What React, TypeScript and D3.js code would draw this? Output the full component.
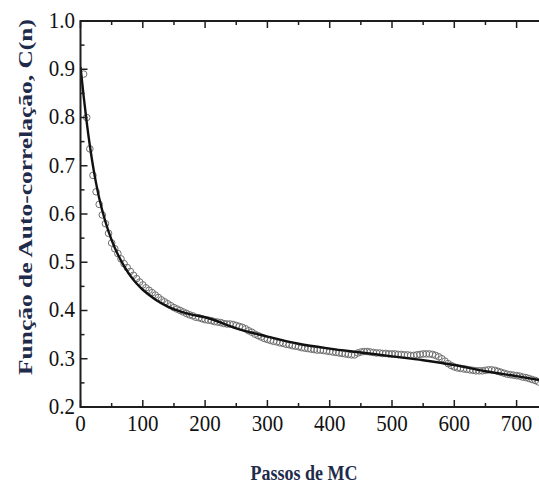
import React from "react";
import * as d3 from "d3";

// Monte Carlo steps (circles every 5 steps) and measured autocorrelation
const dataSteps: number[] = [
  5, 10, 15, 20, 25, 30, 35, 40, 45, 50, 55, 60, 65, 70, 75, 80, 85, 90, 95, 100,
  105, 110, 115, 120, 125, 130, 135, 140, 145, 150, 155, 160, 165, 170, 175, 180, 185, 190, 195, 200,
  205, 210, 215, 220, 225, 230, 235, 240, 245, 250, 255, 260, 265, 270, 275, 280, 285, 290, 295, 300,
  305, 310, 315, 320, 325, 330, 335, 340, 345, 350, 355, 360, 365, 370, 375, 380, 385, 390, 395, 400,
  405, 410, 415, 420, 425, 430, 435, 440, 445, 450, 455, 460, 465, 470, 475, 480, 485, 490, 495, 500,
  505, 510, 515, 520, 525, 530, 535, 540, 545, 550, 555, 560, 565, 570, 575, 580, 585, 590, 595, 600,
  605, 610, 615, 620, 625, 630, 635, 640, 645, 650, 655, 660, 665, 670, 675, 680, 685, 690, 695, 700,
  705, 710, 715, 720, 725, 730, 735,
];
const dataValues: number[] = [
  0.890, 0.800, 0.735, 0.680, 0.646, 0.620, 0.598, 0.580, 0.560, 0.540, 0.528, 0.518, 0.507, 0.497, 0.489, 0.481, 0.473, 0.466, 0.459, 0.453,
  0.447, 0.442, 0.437, 0.432, 0.427, 0.422, 0.418, 0.414, 0.410, 0.406, 0.403, 0.400, 0.397, 0.394, 0.391, 0.389, 0.386, 0.385, 0.383, 0.381,
  0.380, 0.379, 0.377, 0.376, 0.375, 0.373, 0.372, 0.372, 0.371, 0.369, 0.367, 0.365, 0.362, 0.358, 0.355, 0.351, 0.348, 0.345, 0.342, 0.340,
  0.338, 0.336, 0.335, 0.333, 0.332, 0.330, 0.329, 0.327, 0.326, 0.325, 0.323, 0.322, 0.321, 0.320, 0.319, 0.318, 0.318, 0.317, 0.316, 0.315,
  0.314, 0.313, 0.312, 0.311, 0.310, 0.309, 0.308, 0.308, 0.312, 0.314, 0.315, 0.315, 0.314, 0.313, 0.312, 0.312, 0.311, 0.311, 0.310, 0.310,
  0.310, 0.309, 0.309, 0.308, 0.308, 0.307, 0.307, 0.308, 0.309, 0.310, 0.310, 0.310, 0.309, 0.307, 0.304, 0.300, 0.295, 0.290, 0.286, 0.283,
  0.281, 0.280, 0.279, 0.278, 0.277, 0.276, 0.275, 0.275, 0.275, 0.276, 0.277, 0.277, 0.276, 0.274, 0.272, 0.270, 0.268, 0.267, 0.266, 0.265,
  0.264, 0.262, 0.261, 0.259, 0.257, 0.255, 0.252,
];

// Fitted curve, read at these steps
const fitSteps: number[] = [0, 5, 10, 15, 20, 25, 30, 40, 50, 60, 70, 80, 90, 100, 120, 140, 160, 180, 200, 250, 300, 350, 400, 450, 500, 550, 600, 650, 700, 750];
const fitValues: number[] = [0.905, 0.845, 0.790, 0.742, 0.700, 0.664, 0.633, 0.584, 0.546, 0.516, 0.492, 0.472, 0.456, 0.443, 0.423, 0.408, 0.398, 0.391, 0.386, 0.363, 0.346, 0.331, 0.321, 0.313, 0.305, 0.297, 0.287, 0.274, 0.264, 0.253];

const xTicks: number[] = [0, 100, 200, 300, 400, 500, 600, 700];
const xMinorTicks: number[] = [50, 150, 250, 350, 450, 550, 650, 750];
const yTicks: number[] = [0.2, 0.3, 0.4, 0.5, 0.6, 0.7, 0.8, 0.9, 1.0];
const yMinorTicks: number[] = [0.25, 0.35, 0.45, 0.55, 0.65, 0.75, 0.85, 0.95];

const W = 539;
const H = 485;
const left = 80.5;
const top = 21;
const bottom = 407;
const pxPer100 = 62.3;

const FONT = '"Times New Roman", "Liberation Serif", Times, serif';

export default function App() {
  const x = d3.scaleLinear().domain([0, 750]).range([left, left + 7.5 * pxPer100]);
  const y = d3.scaleLinear().domain([0.2, 1.0]).range([bottom, top]);
  const right = x(750);

  const fitLine = d3
    .line<number>()
    .x((_, i) => x(fitSteps[i]))
    .y((d) => y(d))
    .curve(d3.curveMonotoneX)(fitValues) as string;

  const axisColor = "#1e1e1e";
  const titleColor = "#1f2b4a";
  const textStyle = { fontFamily: FONT };

  return (
    <svg
      width={W}
      height={H}
      style={{ position: "absolute", left: 0, top: 0, background: "#fff" }}
    >
      <rect x={0} y={0} width={W} height={H} fill="#fff" />
      <defs>
        <clipPath id="plotclip">
          <rect x={left} y={top} width={right - left} height={bottom - top} />
        </clipPath>
      </defs>

      {/* data circles */}
      <g clipPath="url(#plotclip)">
        {dataValues.map((v, i) => (
          <circle
            key={i}
            cx={x(dataSteps[i])}
            cy={y(v)}
            r={3.3}
            fill="none"
            stroke="#6e6e6e"
            strokeWidth={1}
          />
        ))}
        <path d={fitLine} fill="none" stroke="#111" strokeWidth={2.4} />
      </g>

      {/* axes frame */}
      <line x1={left} x2={right} y1={bottom} y2={bottom} stroke={axisColor} strokeWidth={2} />
      <line x1={left} x2={right} y1={top} y2={top} stroke={axisColor} strokeWidth={2} />
      <line x1={left} x2={left} y1={top - 1} y2={bottom + 1} stroke={axisColor} strokeWidth={2} />

      {/* x ticks (inward, bottom and top) */}
      {xTicks.map((t) => (
        <g key={"xt" + t}>
          <line x1={x(t)} x2={x(t)} y1={bottom} y2={bottom - 7} stroke={axisColor} strokeWidth={1.5} />
          <line x1={x(t)} x2={x(t)} y1={top} y2={top + 7} stroke={axisColor} strokeWidth={1.5} />
          <text
            transform={`translate(${x(t)},${431}) scale(1,1.12)`}
            textAnchor="middle"
            fontSize={21}
            fill="#111"
            style={textStyle}
          >
            {t}
          </text>
        </g>
      ))}
      {xMinorTicks.map((t) => (
        <g key={"xm" + t}>
          <line x1={x(t)} x2={x(t)} y1={bottom} y2={bottom - 4} stroke={axisColor} strokeWidth={1.5} />
          <line x1={x(t)} x2={x(t)} y1={top} y2={top + 4} stroke={axisColor} strokeWidth={1.5} />
        </g>
      ))}

      {/* y ticks */}
      {yTicks.map((t) => (
        <g key={"yt" + t}>
          <line x1={left} x2={left + 7} y1={y(t)} y2={y(t)} stroke={axisColor} strokeWidth={1.5} />
          <text
            transform={`translate(${75},${y(t) + 6.8}) scale(1,1.12)`}
            textAnchor="end"
            fontSize={21}
            fill="#111"
            style={textStyle}
          >
            {d3.format(".1f")(t)}
          </text>
        </g>
      ))}
      {yMinorTicks.map((t) => (
        <line key={"ym" + t} x1={left} x2={left + 4} y1={y(t)} y2={y(t)} stroke={axisColor} strokeWidth={1.5} />
      ))}

      {/* axis titles */}
      <text
        transform={`translate(${32},${197}) rotate(-90)`}
        textAnchor="middle"
        fontSize={19}
        fontWeight="bold"
        fill={titleColor}
        textLength={356}
        lengthAdjust="spacingAndGlyphs"
        style={textStyle}
      >
        Função de Auto-correlação, C(n)
      </text>
      <text
        transform={`translate(${304},${480}) scale(1,1.15)`}
        textAnchor="middle"
        fontSize={18}
        fontWeight="bold"
        fill={titleColor}
        style={textStyle}
      >
        Passos de MC
      </text>
    </svg>
  );
}
